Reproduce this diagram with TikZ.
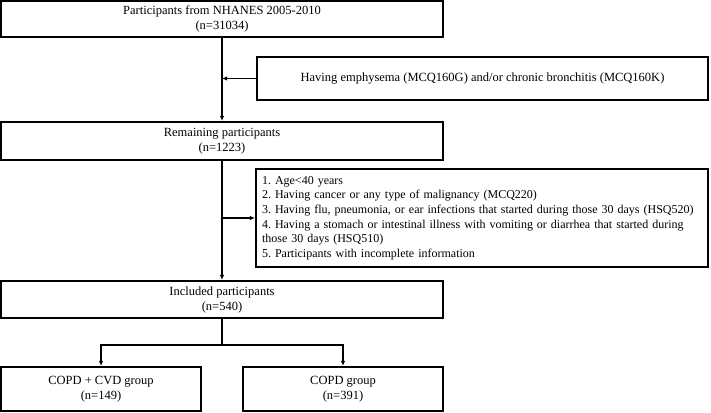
\documentclass[tikz,border=0pt]{standalone}
\usepackage{fontspec}
\setmainfont{Liberation Serif}
\usetikzlibrary{arrows.meta}

\tikzset{
    box/.style={draw, line width=2.2pt, inner sep=0pt, align=center,
        font=\fontsize{12.5}{15}\selectfont},
    listbox/.style={draw, line width=2.2pt, inner xsep=6pt, inner ysep=0pt,
        align=left, text width=440pt, font=\fontsize{12}{14.6}\selectfont\frenchspacing},
    link/.style={line width=1.3pt, -{Latex[length=5pt,width=4.5pt]}}
}

\begin{document}
\begin{tikzpicture}[x=1pt,y=-1pt]
    \useasboundingbox (0,0) rectangle (711,412);
    \node[box, minimum width=442pt, minimum height=36pt] (top) at (222,19)
        {Participants from NHANES 2005-2010\\(n=31034)};
    \node[box, minimum width=451pt, minimum height=43pt] (excl1) at (482.5,78.5)
        {Having emphysema (MCQ160G) and/or chronic bronchitis (MCQ160K)};
    \node[box, minimum width=442pt, minimum height=38pt] (remain) at (222,141)
        {Remaining participants\\(n=1223)};
    \node[listbox, minimum height=98pt] (excl2) at (482,218)
        {1. Age<40 years\\
         2. Having cancer or any type of malignancy (MCQ220)\\
         3. Having flu, pneumonia, or ear infections that started during those 30 days (HSQ520)\\
         4. Having a stomach or intestinal illness with vomiting or diarrhea that started during\\
         those 30 days (HSQ510)\\
         5. Participants with incomplete information};
    \node[box, minimum width=442pt, minimum height=37pt] (incl) at (222,299.5)
        {Included participants\\(n=540)};
    \node[box, minimum width=200pt, minimum height=44pt] (cvd) at (101,389)
        {COPD + CVD group\\(n=149)};
    \node[box, minimum width=200pt, minimum height=44pt] (copd) at (343,389)
        {COPD group\\(n=391)};

    \coordinate (j1) at (excl1.west -| top.south);
    \coordinate (j2) at (excl2.west -| remain.south);
    \coordinate (split) at (222,345);

    \draw[link] (top.south) -- (remain.north);
    \draw[link] (excl1.west) -- (j1);
    \draw[link] (remain.south) -- (incl.north);
    \draw[link] (j2) -- (excl2.west);
    \draw[line width=1.3pt] (incl.south) -- (split);
    \draw[link] (split) -| (cvd.north);
    \draw[link] (split) -| (copd.north);
\end{tikzpicture}
\end{document}
